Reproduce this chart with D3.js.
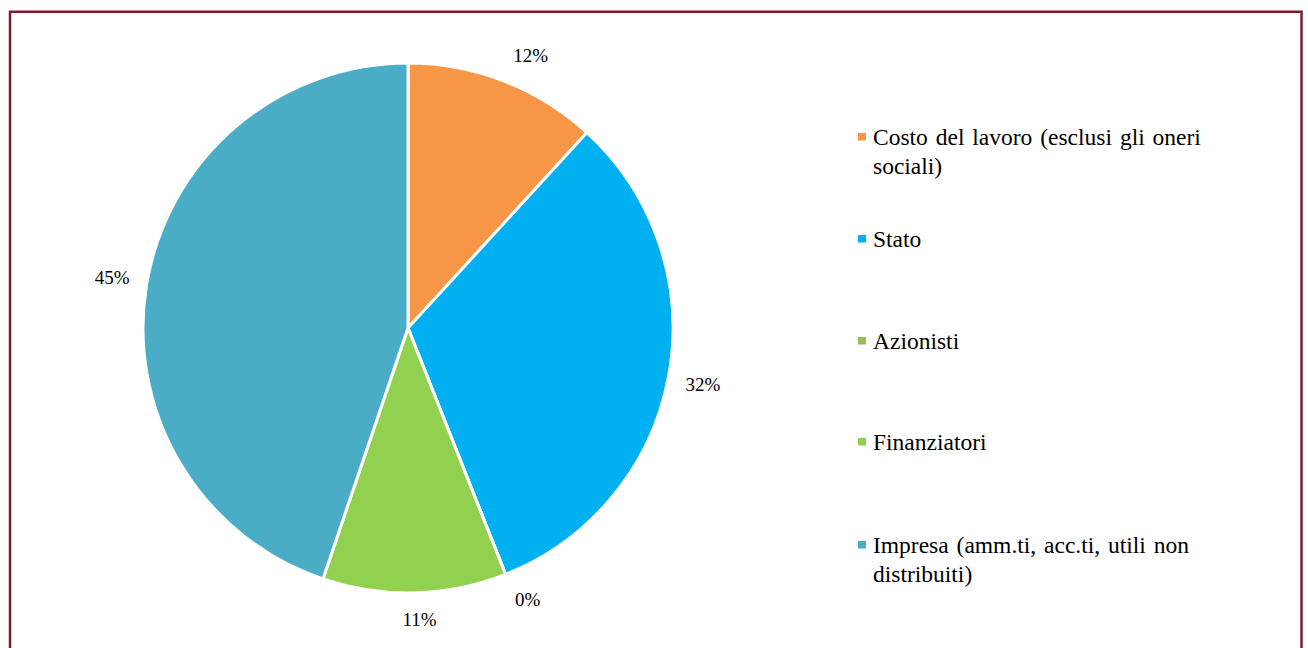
<!DOCTYPE html>
<html><head><meta charset="utf-8">
<script src="https://cdn.jsdelivr.net/npm/d3@7"></script>
<style>html,body{margin:0;padding:0;background:#fff;}svg{display:block;}</style>
</head><body>
<svg id="c" width="1308" height="648"></svg>
<script>
const categories = ["Costo del lavoro (esclusi gli oneri sociali)", "Stato", "Azionisti", "Finanziatori", "Impresa (amm.ti, acc.ti, utili non distribuiti)"];
const legendLines = [["Costo del lavoro (esclusi gli oneri", "sociali)"], ["Stato"], ["Azionisti"], ["Finanziatori"], ["Impresa (amm.ti, acc.ti, utili non", "distribuiti)"]];
const values = [11.8, 32.2, 0.0, 11.2, 44.8];
const labels = ["12%", "32%", "0%", "11%", "45%"];
const colors = ["#F79646", "#00B0F0", "#9BBB59", "#92D050", "#4BACC6"];

const FONT = '"Liberation Serif", "Times New Roman", serif';
const svg = d3.select("#c");
svg.append("rect").attr("x", 10).attr("y", 11.75).attr("width", 1291.5).attr("height", 700)
  .attr("fill", "#fff").attr("stroke", "#7B1C2E").attr("stroke-width", 2.5);

const cx = 408, cy = 328, R = 265;
const g = svg.append("g").attr("transform", `translate(${cx},${cy})`);
const pie = d3.pie().sort(null).value(d => d)(values);
const arc = d3.arc().innerRadius(0).outerRadius(R);
g.selectAll("path").data(pie).join("path")
  .attr("d", arc).attr("fill", (d, i) => colors[i])
  .attr("stroke", "#fff").attr("stroke-width", 3).attr("stroke-linejoin", "round");

const lab = g.selectAll("text.lab").data(pie).join("text").attr("class", "lab")
  .style("font-family", FONT).style("font-size", "19px").attr("fill", "#000")
  .attr("text-anchor", "middle").attr("dominant-baseline", "central")
  .text((d, i) => labels[i]);
lab.each(function (d) {
  const a = (d.startAngle + d.endAngle) / 2;
  const bb = this.getBBox();
  const s = Math.sin(a), c = -Math.cos(a);
  const rp = R + 17;
  const t = v => Math.sign(v) * Math.min(1, Math.abs(v) / 0.3);
  const x = s * rp + t(s) * bb.width / 2 + 3 * Math.sign(s) * (Math.abs(c) > 0.5 ? 1 : 0);
  const y = c * rp + t(c) * 9.5;
  d3.select(this).attr("x", x).attr("y", y);
});

const legY = [145, 247, 349, 450, 553];
const leg = svg.append("g");
legendLines.forEach((lines, i) => {
  leg.append("rect").attr("x", 858).attr("y", legY[i] - 12).attr("width", 8).attr("height", 7.5).attr("fill", colors[i]);
  const t = leg.append("text").attr("x", 873).attr("y", legY[i])
    .style("font-family", FONT).style("font-size", "23.5px").style("word-spacing", lines.length > 1 ? "2px" : "0px").attr("fill", "#000");
  lines.forEach((ln, j) => t.append("tspan").attr("x", 873).attr("dy", j === 0 ? 0 : 28.5).text(ln));
});
</script>
</body></html>
